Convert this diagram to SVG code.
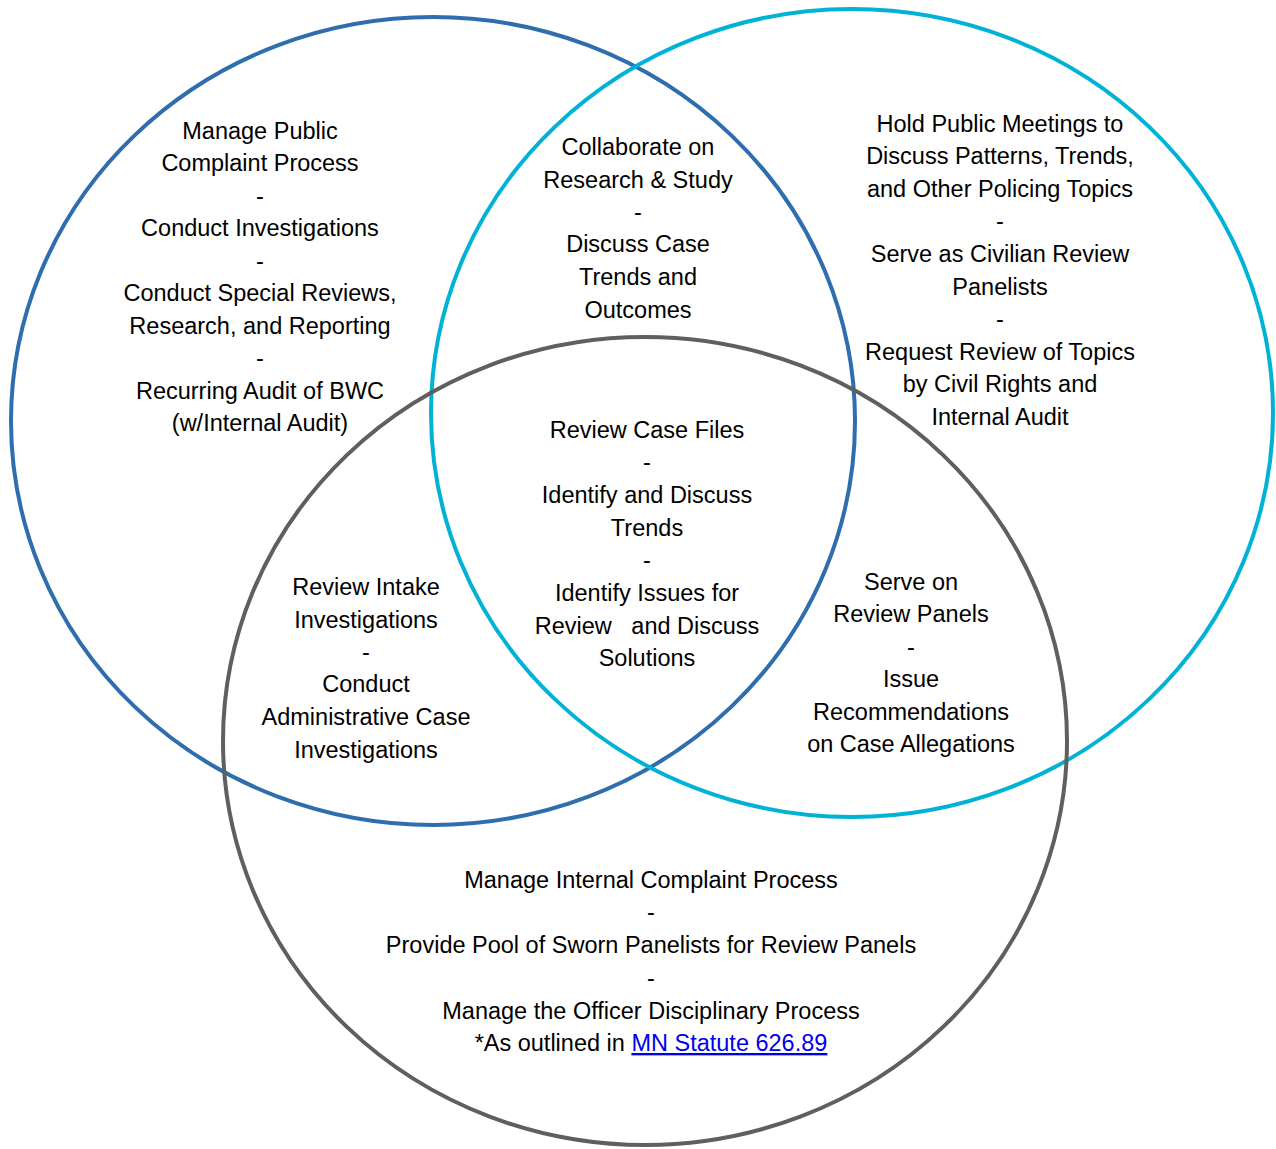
<svg xmlns="http://www.w3.org/2000/svg" width="1276" height="1149" viewBox="0 0 1276 1149">
<style>
.c{fill:none;stroke-width:4}
text{font-family:"Liberation Sans",Arial,sans-serif;font-size:23.5px;fill:#000;text-anchor:middle;white-space:pre}
.lk{fill:#0000EE;text-decoration:underline}
</style>
<rect width="1276" height="1149" fill="#fff"/>
<g id="circles">
<ellipse id="circle-left" class="c" cx="433" cy="421" rx="422" ry="404" stroke="#2E6DAE"/>
<ellipse id="circle-right" class="c" cx="852" cy="413" rx="421" ry="404" stroke="#00B2D6"/>
<ellipse id="circle-bottom" class="c" cx="645" cy="741" rx="422" ry="404" stroke="#5F5F5F"/>
</g>
<g id="left-only">
<text x="260" y="139">Manage Public</text>
<text x="260" y="171">Complaint Process</text>
<text x="260" y="204">-</text>
<text x="260" y="236">Conduct Investigations</text>
<text x="260" y="269">-</text>
<text x="260" y="301">Conduct Special Reviews,</text>
<text x="260" y="334">Research, and Reporting</text>
<text x="260" y="366">-</text>
<text x="260" y="399">Recurring Audit of BWC</text>
<text x="260" y="431">(w/Internal Audit)</text>
</g>
<g id="left-right">
<text x="638" y="155">Collaborate on</text>
<text x="638" y="188">Research &amp; Study</text>
<text x="638" y="220">-</text>
<text x="638" y="252">Discuss Case</text>
<text x="638" y="285">Trends and</text>
<text x="638" y="318">Outcomes</text>
</g>
<g id="right-only">
<text x="1000" y="132">Hold Public Meetings to</text>
<text x="1000" y="164">Discuss Patterns, Trends,</text>
<text x="1000" y="197">and Other Policing Topics</text>
<text x="1000" y="229">-</text>
<text x="1000" y="262">Serve as Civilian Review</text>
<text x="1000" y="295">Panelists</text>
<text x="1000" y="327">-</text>
<text x="1000" y="360">Request Review of Topics</text>
<text x="1000" y="392">by Civil Rights and</text>
<text x="1000" y="425">Internal Audit</text>
</g>
<g id="center">
<text x="647" y="438">Review Case Files</text>
<text x="647" y="470">-</text>
<text x="647" y="503">Identify and Discuss</text>
<text x="647" y="536">Trends</text>
<text x="647" y="568">-</text>
<text x="647" y="601">Identify Issues for</text>
<text x="647" y="634">Review   and Discuss</text>
<text x="647" y="666">Solutions</text>
</g>
<g id="left-bottom">
<text x="366" y="595">Review Intake</text>
<text x="366" y="628">Investigations</text>
<text x="366" y="660">-</text>
<text x="366" y="692">Conduct</text>
<text x="366" y="725">Administrative Case</text>
<text x="366" y="758">Investigations</text>
</g>
<g id="right-bottom">
<text x="911" y="590">Serve on</text>
<text x="911" y="622">Review Panels</text>
<text x="911" y="655">-</text>
<text x="911" y="687">Issue</text>
<text x="911" y="720">Recommendations</text>
<text x="911" y="752">on Case Allegations</text>
</g>
<g id="bottom-only">
<text x="651" y="888">Manage Internal Complaint Process</text>
<text x="651" y="920">-</text>
<text x="651" y="953">Provide Pool of Sworn Panelists for Review Panels</text>
<text x="651" y="986">-</text>
<text x="651" y="1019">Manage the Officer Disciplinary Process</text>
<text x="651" y="1051">*As outlined in <tspan class="lk">MN Statute 626.89</tspan></text>
</g>
</svg>
